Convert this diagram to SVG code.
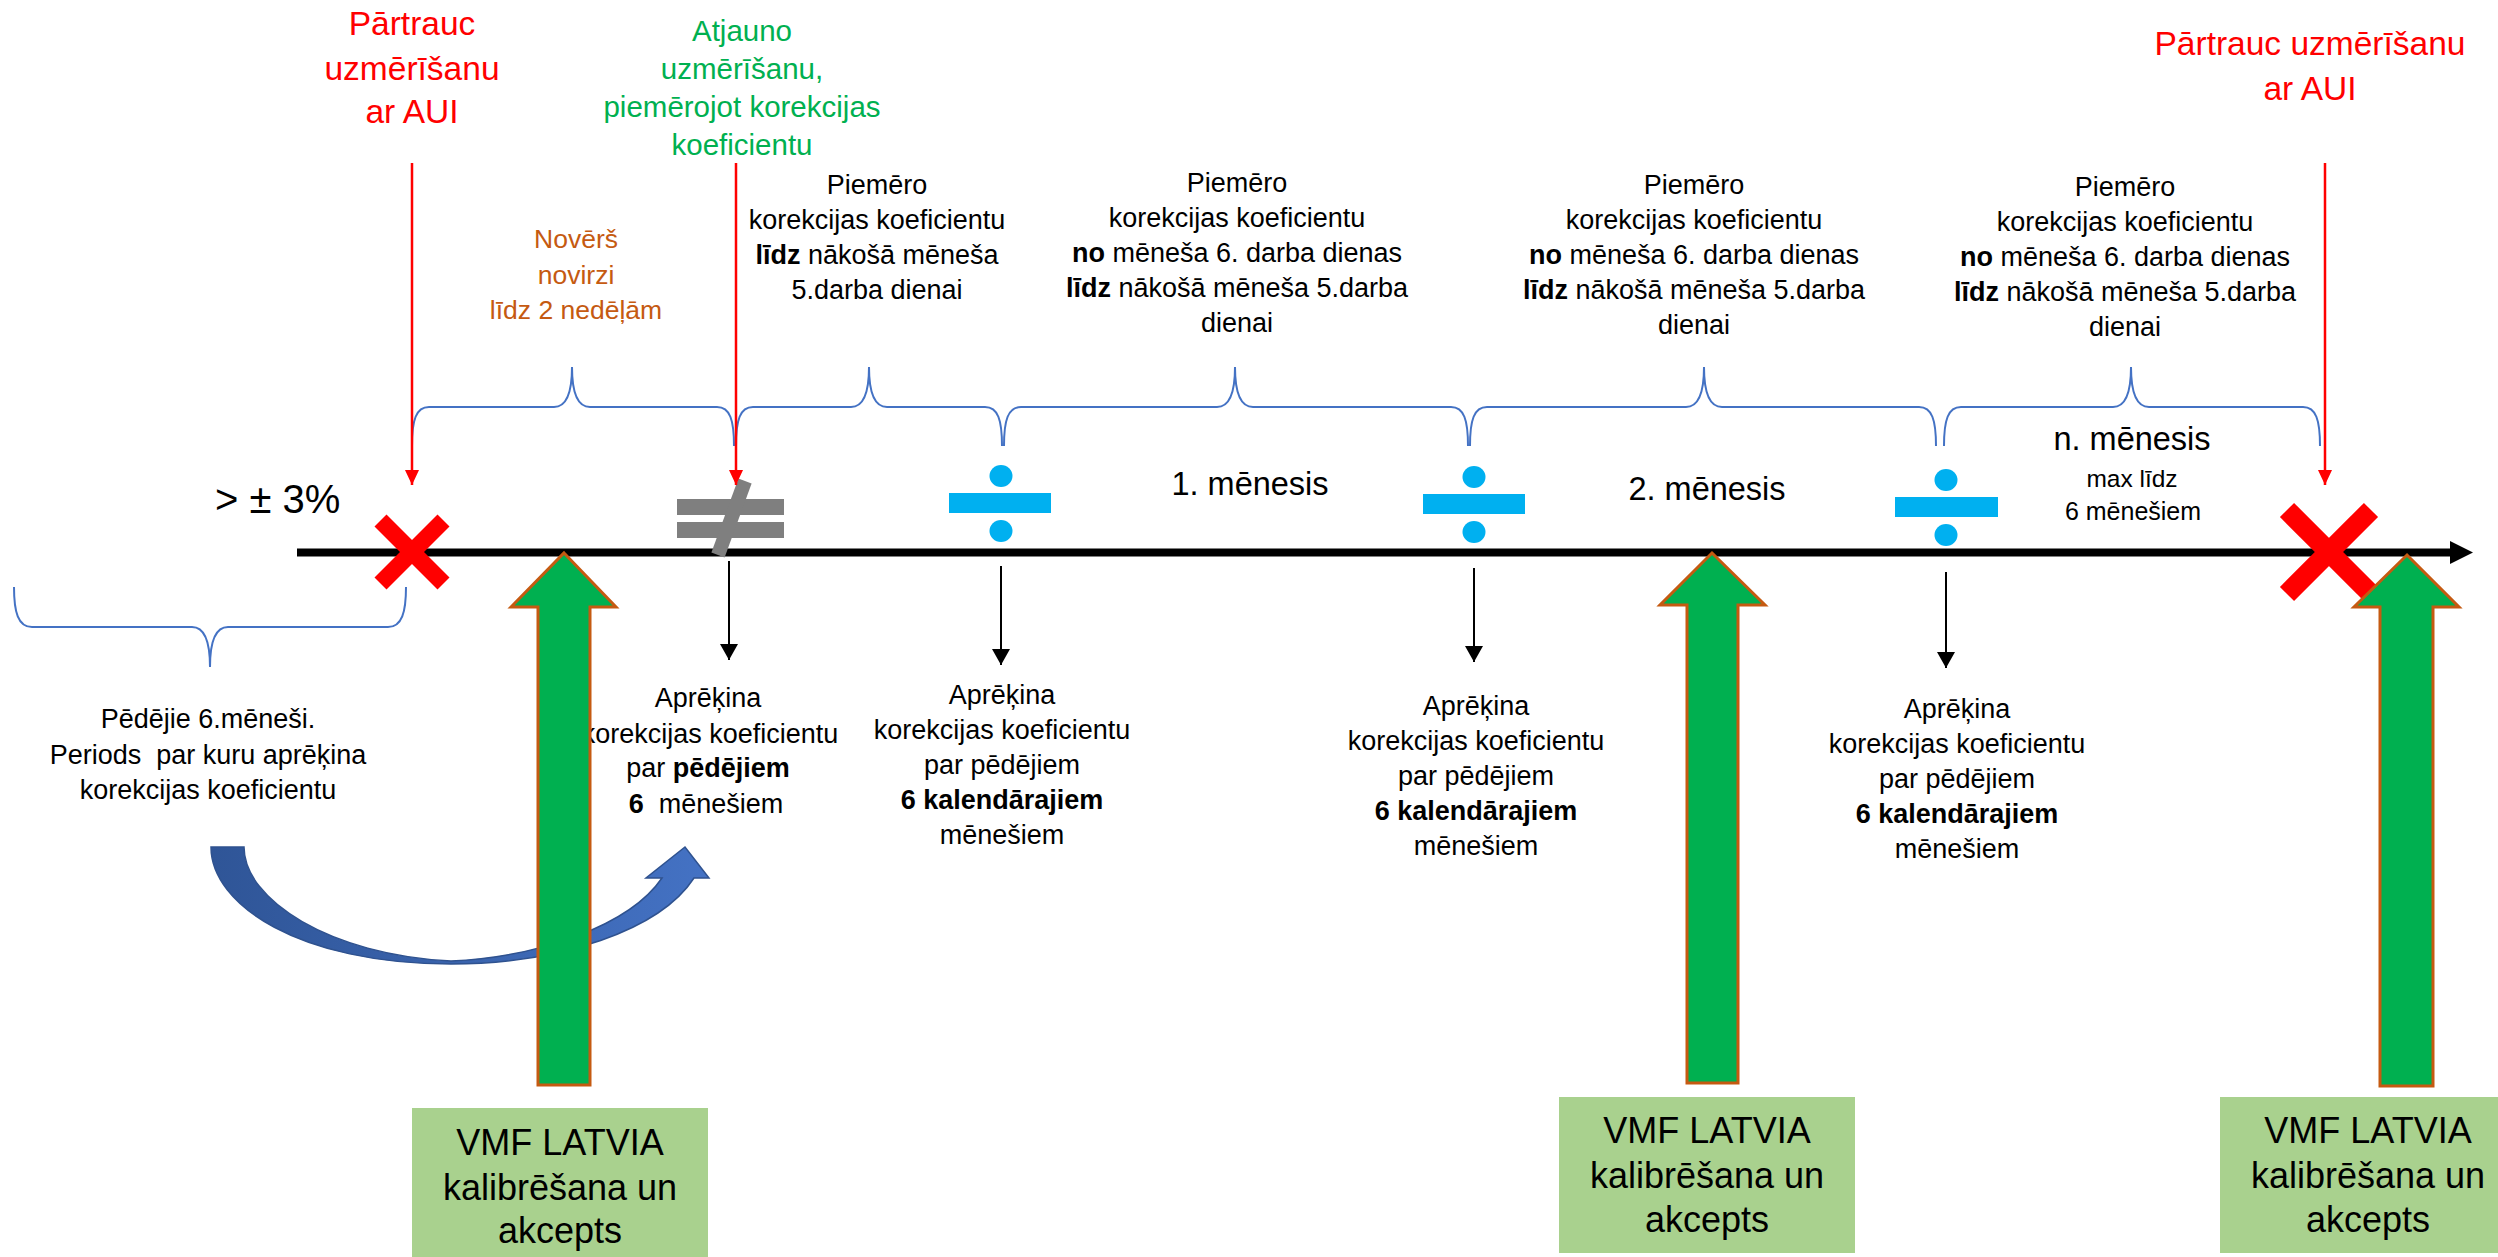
<svg xmlns="http://www.w3.org/2000/svg" width="2498" height="1257" viewBox="0 0 2498 1257">
<defs>
<style>
text{font-family:'Liberation Sans',Arial,sans-serif;text-anchor:middle}
.red{fill:#FF0000;font-size:33.5px}
.grn{fill:#00B050;font-size:29.5px}
.org{fill:#C55A11;font-size:26.5px}
.blk{fill:#000000;font-size:27px}
.mon{fill:#000000;font-size:32.5px}
.box{fill:#000000;font-size:36px}
.b{font-weight:bold}
.brace{fill:none;stroke:#4472C4;stroke-width:2}
.divbar{fill:#00B0F0}
.xm{stroke:#FF0000;fill:none;stroke-linecap:butt}
.garrow{fill:#00B050;stroke:#C55A11;stroke-width:3;stroke-linejoin:miter}
.gbox{fill:#A9D18E}
.redline{stroke:#FF0000;stroke-width:2.5;fill:none}
.blkline{stroke:#000000;stroke-width:2;fill:none}
</style>
<marker id="redHead" markerUnits="userSpaceOnUse" markerWidth="15" markerHeight="14" refX="15" refY="7" orient="auto">
<path d="M0,0 L15,7 L0,14 Z" fill="#FF0000"/>
</marker>
<marker id="blkHead" markerUnits="userSpaceOnUse" markerWidth="16" markerHeight="18" refX="16" refY="9" orient="auto">
<path d="M0,0 L16,9 L0,18 Z" fill="#000000"/>
</marker>
<linearGradient id="curveGrad" x1="211" y1="0" x2="709" y2="0" gradientUnits="userSpaceOnUse">
<stop offset="0" stop-color="#2F5597"/>
<stop offset="1" stop-color="#4472C4"/>
</linearGradient>
</defs>
<rect x="0" y="0" width="2498" height="1257" fill="#FFFFFF"/>

<!-- braces -->
<g id="brace-1"><path class="brace" d="M412,446 C412,420 416,407 429,407 L554,407 C566,407 572,395 572,367 C572,395 578,407 590,407 L717,407 C730,407 734,420 734,446"/></g>
<g id="brace-2"><path class="brace" d="M736,446 C736,420 740,407 753,407 L851,407 C863,407 869,395 869,367 C869,395 875,407 887,407 L985,407 C998,407 1002,420 1002,446"/></g>
<g id="brace-3"><path class="brace" d="M1004,446 C1004,420 1008,407 1021,407 L1217,407 C1229,407 1235,395 1235,367 C1235,395 1241,407 1253,407 L1451,407 C1464,407 1468,420 1468,446"/></g>
<g id="brace-4"><path class="brace" d="M1470,446 C1470,420 1474,407 1487,407 L1686,407 C1698,407 1704,395 1704,367 C1704,395 1710,407 1722,407 L1919,407 C1932,407 1936,420 1936,446"/></g>
<g id="brace-5"><path class="brace" d="M1944,446 C1944,420 1948,407 1961,407 L2113,407 C2125,407 2131,395 2131,367 C2131,395 2137,407 2149,407 L2303,407 C2316,407 2320,420 2320,446"/></g>
<g id="brace-left"><path class="brace" d="M14,587 C14,612 18,627 32,627 L192,627 C204,627 210,640 210,667 C210,640 216,627 228,627 L388,627 C402,627 406,612 406,587"/></g>

<!-- top labels -->
<g id="stop-label-1">
<text class="red" x="412" y="35">Pārtrauc</text>
<text class="red" x="412" y="80">uzmērīšanu</text>
<text class="red" x="412" y="123">ar AUI</text>
</g>
<g id="resume-label">
<text class="grn" x="742" y="41">Atjauno</text>
<text class="grn" x="742" y="79">uzmērīšanu,</text>
<text class="grn" x="742" y="117">piemērojot korekcijas</text>
<text class="grn" x="742" y="155">koeficientu</text>
</g>
<g id="stop-label-2">
<text class="red" x="2310" y="55">Pārtrauc uzmērīšanu</text>
<text class="red" x="2310" y="100">ar AUI</text>
</g>
<g id="fix-label">
<text class="org" x="576" y="248">Novērš</text>
<text class="org" x="576" y="284">novirzi</text>
<text class="org" x="576" y="319">līdz 2 nedēļām</text>
</g>
<g id="apply-1">
<text class="blk" x="877" y="194">Piemēro</text>
<text class="blk" x="877" y="229">korekcijas koeficientu</text>
<text class="blk" x="877" y="264"><tspan class="b">līdz</tspan> nākošā mēneša</text>
<text class="blk" x="877" y="299">5.darba dienai</text>
</g>
<g id="apply-2">
<text class="blk" x="1237" y="192">Piemēro</text>
<text class="blk" x="1237" y="227">korekcijas koeficientu</text>
<text class="blk" x="1237" y="262"><tspan class="b">no</tspan> mēneša 6. darba dienas</text>
<text class="blk" x="1237" y="297"><tspan class="b">līdz</tspan> nākošā mēneša 5.darba</text>
<text class="blk" x="1237" y="332">dienai</text>
</g>
<g id="apply-3">
<text class="blk" x="1694" y="194">Piemēro</text>
<text class="blk" x="1694" y="229">korekcijas koeficientu</text>
<text class="blk" x="1694" y="264"><tspan class="b">no</tspan> mēneša 6. darba dienas</text>
<text class="blk" x="1694" y="299"><tspan class="b">līdz</tspan> nākošā mēneša 5.darba</text>
<text class="blk" x="1694" y="334">dienai</text>
</g>
<g id="apply-4">
<text class="blk" x="2125" y="196">Piemēro</text>
<text class="blk" x="2125" y="231">korekcijas koeficientu</text>
<text class="blk" x="2125" y="266"><tspan class="b">no</tspan> mēneša 6. darba dienas</text>
<text class="blk" x="2125" y="301"><tspan class="b">līdz</tspan> nākošā mēneša 5.darba</text>
<text class="blk" x="2125" y="336">dienai</text>
</g>

<!-- month labels -->
<g id="threshold-label"><text x="215" y="513" style="font-size:40px;text-anchor:start;fill:#000">&gt; ± 3%</text></g>
<g id="month-1"><text class="mon" x="1250" y="495">1. mēnesis</text></g>
<g id="month-2"><text class="mon" x="1707" y="500">2. mēnesis</text></g>
<g id="month-n">
<text class="mon" x="2132" y="450">n. mēnesis</text>
<text x="2132" y="487" style="font-size:24.5px;fill:#000">max līdz</text>
<text x="2133" y="520" style="font-size:25px;fill:#000">6 mēnešiem</text>
</g>

<!-- bottom labels -->
<g id="calc-period">
<text class="blk" x="208" y="728">Pēdējie 6.mēneši.</text>
<text class="blk" x="208" y="764" xml:space="preserve">Periods  par kuru aprēķina</text>
<text class="blk" x="208" y="799">korekcijas koeficientu</text>
</g>
<g id="calc-1">
<text class="blk" x="708" y="707">Aprēķina</text>
<text class="blk" x="710" y="743">korekcijas koeficientu</text>
<text class="blk" x="708" y="777">par <tspan class="b">pēdējiem</tspan></text>
<text class="blk" x="706" y="813" xml:space="preserve"><tspan class="b">6</tspan>  mēnešiem</text>
</g>
<g id="calc-2">
<text class="blk" x="1002" y="704">Aprēķina</text>
<text class="blk" x="1002" y="739">korekcijas koeficientu</text>
<text class="blk" x="1002" y="774">par pēdējiem</text>
<text class="blk b" x="1002" y="809">6 kalendārajiem</text>
<text class="blk" x="1002" y="844">mēnešiem</text>
</g>
<g id="calc-3">
<text class="blk" x="1476" y="715">Aprēķina</text>
<text class="blk" x="1476" y="750">korekcijas koeficientu</text>
<text class="blk" x="1476" y="785">par pēdējiem</text>
<text class="blk b" x="1476" y="820">6 kalendārajiem</text>
<text class="blk" x="1476" y="855">mēnešiem</text>
</g>
<g id="calc-4">
<text class="blk" x="1957" y="718">Aprēķina</text>
<text class="blk" x="1957" y="753">korekcijas koeficientu</text>
<text class="blk" x="1957" y="788">par pēdējiem</text>
<text class="blk b" x="1957" y="823">6 kalendārajiem</text>
<text class="blk" x="1957" y="858">mēnešiem</text>
</g>

<!-- timeline -->
<g id="timeline">
<line x1="297" y1="552.5" x2="2452" y2="552.5" stroke="#000000" stroke-width="8"/>
<polygon points="2450,541 2473,552.5 2450,564" fill="#000000"/>
</g>

<!-- symbols -->
<g id="not-equal">
<rect x="677" y="499" width="107" height="16" fill="#7F7F7F"/>
<rect x="677" y="522" width="107" height="16" fill="#7F7F7F"/>
<polygon points="738.4,478.5 751.6,483.5 724.6,557.5 711.4,552.5" fill="#7F7F7F"/>
</g>
<g id="divide-1">
<rect class="divbar" x="949" y="493" width="102" height="20"/>
<ellipse class="divbar" cx="1001" cy="476" rx="11.5" ry="11"/>
<ellipse class="divbar" cx="1001" cy="531" rx="11.5" ry="11"/>
</g>
<g id="divide-2">
<rect class="divbar" x="1423" y="494" width="102" height="20"/>
<ellipse class="divbar" cx="1474" cy="477" rx="11.5" ry="11"/>
<ellipse class="divbar" cx="1474" cy="532" rx="11.5" ry="11"/>
</g>
<g id="divide-3">
<rect class="divbar" x="1895" y="497" width="103" height="20"/>
<ellipse class="divbar" cx="1946" cy="480" rx="11.5" ry="11"/>
<ellipse class="divbar" cx="1946" cy="535" rx="11.5" ry="11"/>
</g>
<g id="x-mark-1">
<line class="xm" stroke-width="17" x1="380.5" y1="520.5" x2="443.5" y2="583.5"/>
<line class="xm" stroke-width="17" x1="443.5" y1="520.5" x2="380.5" y2="583.5"/>
</g>
<g id="x-mark-2">
<line class="xm" stroke-width="20" x1="2287" y1="510" x2="2371" y2="594"/>
<line class="xm" stroke-width="20" x1="2371" y1="510" x2="2287" y2="594"/>
</g>

<!-- connectors -->
<g id="connectors">
<line class="redline" x1="412" y1="163" x2="412" y2="485" marker-end="url(#redHead)"/>
<line class="redline" x1="736" y1="163" x2="736" y2="485" marker-end="url(#redHead)"/>
<line class="redline" x1="2325" y1="163" x2="2325" y2="485" marker-end="url(#redHead)"/>
<line class="blkline" x1="729" y1="561" x2="729" y2="660" marker-end="url(#blkHead)"/>
<line class="blkline" x1="1001" y1="566" x2="1001" y2="665" marker-end="url(#blkHead)"/>
<line class="blkline" x1="1474" y1="568" x2="1474" y2="662" marker-end="url(#blkHead)"/>
<line class="blkline" x1="1946" y1="572" x2="1946" y2="668" marker-end="url(#blkHead)"/>
</g>

<!-- curved arrow -->
<g id="curved-arrow">
<path d="M211,847 C211,905 300,964 451,964 C560,964 660,930 694,878 L709,878 L685,847 L646,878 L662,878 C630,925 540,957 451,961 C330,955 244,900 244,847 Z" fill="url(#curveGrad)" stroke="#2F528F" stroke-width="1.5" stroke-linejoin="miter"/>
</g>

<!-- green up arrows -->
<g id="green-arrow-1"><polygon class="garrow" points="564,553 616,607 590,607 590,1085 538,1085 538,607 511,607"/></g>
<g id="green-arrow-2"><polygon class="garrow" points="1712,553 1765,605 1738,605 1738,1083 1687,1083 1687,605 1660,605"/></g>
<g id="green-arrow-3"><polygon class="garrow" points="2407,555 2459,607 2433,607 2433,1086 2380,1086 2380,607 2354,607"/></g>

<!-- boxes -->
<g id="box-1">
<rect class="gbox" x="412" y="1108" width="296" height="149"/>
<text class="box" x="560" y="1155">VMF LATVIA</text>
<text class="box" x="560" y="1200">kalibrēšana un</text>
<text class="box" x="560" y="1243">akcepts</text>
</g>
<g id="box-2">
<rect class="gbox" x="1559" y="1097" width="296" height="156"/>
<text class="box" x="1707" y="1143">VMF LATVIA</text>
<text class="box" x="1707" y="1188">kalibrēšana un</text>
<text class="box" x="1707" y="1232">akcepts</text>
</g>
<g id="box-3">
<rect class="gbox" x="2220" y="1097" width="296" height="156"/>
<text class="box" x="2368" y="1143">VMF LATVIA</text>
<text class="box" x="2368" y="1188">kalibrēšana un</text>
<text class="box" x="2368" y="1232">akcepts</text>
</g>
</svg>
